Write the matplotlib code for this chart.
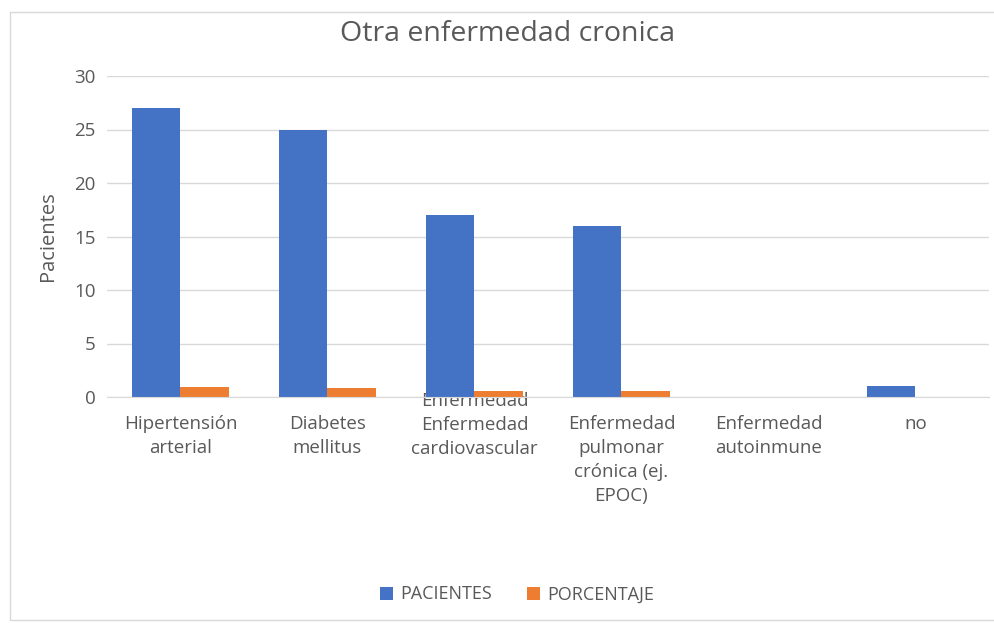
import matplotlib
matplotlib.use("Agg")
import matplotlib.pyplot as plt
import matplotlib.transforms as mtransforms
from matplotlib.patches import Rectangle
import numpy as np

plt.rcParams['font.family'] = ['Open Sans', 'DejaVu Sans']

# data
categorias = ["Hipertensión\narterial", "Diabetes\nmellitus",
              "Enfermedad\nEnfermedad\ncardiovascular",
              "Enfermedad\npulmonar\ncrónica (ej.\nEPOC)",
              "Enfermedad\nautoinmune", "no"]
pacientes = [27, 25, 17, 16, 0, 1]
porcentaje = [0.93, 0.86, 0.59, 0.55, 0.0, 0.03]

azul = '#4472C4'
naranja = '#ED7D31'
gris_txt = '#595959'

fig = plt.figure(figsize=(9.95, 6.23), dpi=100)
# chart border like the Excel chart area
fig.patches.append(Rectangle((10/995, 3/623), 985/995, 608/623, transform=fig.transFigure,
                             fill=False, edgecolor='#d9d9d9', linewidth=1))

ax = fig.add_axes([107/995, 1 - 397/623, 882/995, (397 - 76)/623])

x = np.arange(len(categorias))
w = 0.33
ax.bar(x - w/2, pacientes, w, color=azul, label='PACIENTES')
ax.bar(x + w/2, porcentaje, w, color=naranja, label='PORCENTAJE')

ax.set_xlim(-0.5, len(categorias) - 0.5)
ax.set_ylim(0, 30)
ax.set_yticks(range(0, 31, 5))
ax.yaxis.grid(True, color='#d9d9d9', linewidth=1)
ax.set_axisbelow(True)
for s in ['top', 'right', 'left']:
    ax.spines[s].set_visible(False)
ax.spines['bottom'].set_color('#d9d9d9')
ax.tick_params(axis='both', length=0, colors=gris_txt)
ax.tick_params(axis='y', pad=8, labelsize=13.5)
ax.tick_params(axis='x', pad=13, labelsize=13.5)

ax.set_xticks(x)
labels = ax.set_xticklabels(categorias, linespacing=1.42)
# the cardiovascular label sits one line higher in the original
shift = mtransforms.ScaledTranslation(0, 23/100, fig.dpi_scale_trans)
labels[2].set_transform(labels[2].get_transform() + shift)

ax.set_ylabel('Pacientes', color=gris_txt, fontsize=14.5, labelpad=12)
fig.text(0.51, 1 - 34/623, 'Otra enfermedad cronica', ha='center', va='center',
         fontsize=20.5, color=gris_txt)

leg = ax.legend(loc='center', bbox_to_anchor=(0.465, -0.615), ncol=2, frameon=False,
                fontsize=13, handlelength=0.75, handleheight=0.75, columnspacing=1.9,
                handletextpad=0.4)
for t in leg.get_texts():
    t.set_color(gris_txt)

fig.savefig('out.png', dpi=100)
